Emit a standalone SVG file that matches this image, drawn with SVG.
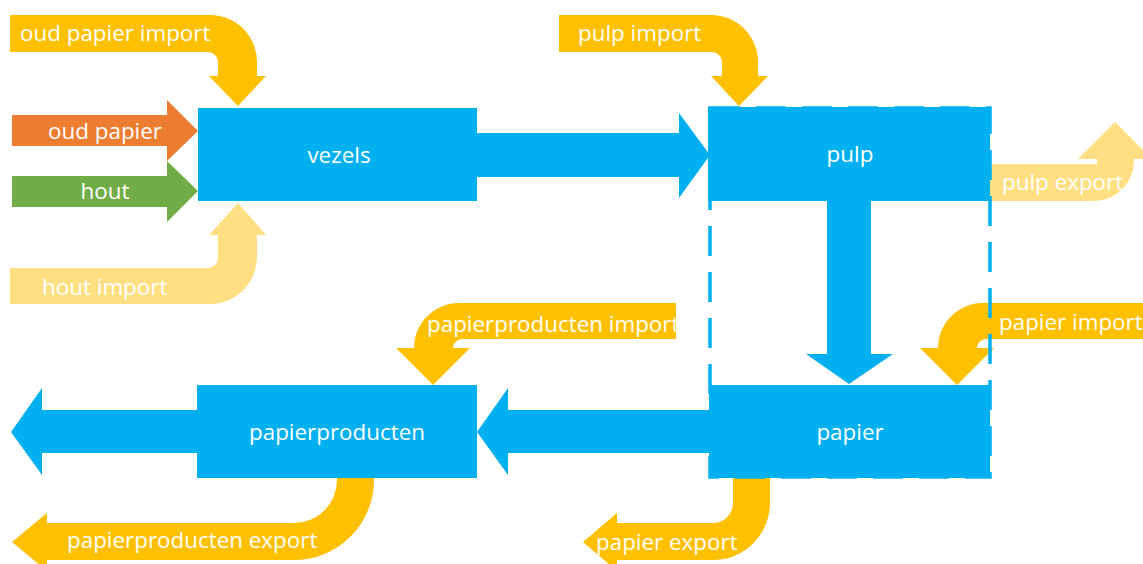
<svg xmlns="http://www.w3.org/2000/svg" width="1143" height="564" viewBox="0 0 1143 564">
  <style>
    .lbl { font-family: "Open Sans", "Noto Sans", sans-serif; font-size: 22.4px; fill: #ffffff; }
    .mid { text-anchor: middle; }
    .box { fill: #00B0F0; }
    .flow { fill: #00B0F0; }
    .imp { fill: #FFC000; }
    .light { fill: #FFDF82; }
    .frame { fill: none; stroke: #00B0F0; stroke-width: 3.5; stroke-dasharray: 30 16; }
  </style>
  <rect width="1143" height="564" fill="#ffffff"/>

  <!-- connectors: main flows and trade arrows -->
  <g id="connectors">
    <!-- inputs into vezels -->
    <path id="in-oud-papier" d="M12,115 H167 V100 L198,131 L167,161 V146 H12 Z" fill="#ED7D31"/>
    <path id="in-hout" d="M12,176 H167 V161 L198,191 L167,222 V207 H12 Z" fill="#70AD47"/>
    <path id="oud-papier-import" class="imp" d="M10,15 H210 A47,47 0 0 1 257,62 V76 H266 L238,106 L209,76 H218 V62 A10,10 0 0 0 208,52 H10 Z"/>
    <path id="hout-import" class="light" d="M10,304 H210 A47,47 0 0 0 257,257 V235 H266 L238,203 L209,235 H218 V258 A10,10 0 0 1 208,268 H10 Z"/>

    <!-- vezels to pulp -->
    <path id="vezels-pulp" class="flow" d="M477,133 H679 V113 L710,155 L679,198 V177 H477 Z"/>
    <path id="pulp-import" class="imp" d="M559,15 H711 A47,47 0 0 1 758,62 V76 H768 L739,106 L711,76 H722 V62 A10,10 0 0 0 712,52 H559 Z"/>
    <path id="pulp-export" class="light" d="M990,164 H1097 V159 H1078 L1115,122 L1152,159 H1134 V161 A40,40 0 0 1 1094,201 H990 Z"/>

    <!-- pulp to papier -->
    <path id="pulp-papier" class="flow" d="M827,201 V354 H806 L849,384 L893,354 H871 V201 Z"/>
    <path id="papier-import" class="imp" d="M1150,303 H983 A45,45 0 0 0 938,348 H920 L957,385 L994,348 H977 A9,9 0 0 1 986,339 H1150 Z"/>
    <path id="papier-export" class="imp" d="M733,478 H770 V503 A57,57 0 0 1 713,560 H617 V571 L583,542 L617,513 V523 H713 A20,20 0 0 0 733,503 Z"/>

    <!-- papier to papierproducten -->
    <path id="papier-papierproducten" class="flow" d="M709,410 H508 V388 L477,432 L508,475 V453 H709 Z"/>
    <path id="papierproducten-import" class="imp" d="M676,303 H459 A45,45 0 0 0 414,348 H396 L433,385 L470,348 H453 A9,9 0 0 1 462,339 H676 Z"/>
    <path id="papierproducten-out" class="flow" d="M197,410 H42 V388 L11,432 L42,475 V453 H197 Z"/>
    <path id="papierproducten-export" class="imp" d="M337,478 H374 V480 A80,80 0 0 1 294,560 H47 V571 L12,542 L47,513 V523 H294 A43,43 0 0 0 337,480 Z"/>
  </g>

  <!-- dashed boundary around pulp and papier -->
  <rect id="mill-frame" class="frame" x="710" y="108" width="280" height="369"/>

  <g id="node-vezels">
    <rect class="box" x="198" y="108" width="279" height="93"/>
    <text class="lbl mid" x="339" y="163">vezels</text>
  </g>
  <g id="node-pulp">
    <rect class="box" x="708" y="107" width="282" height="94"/>
    <text class="lbl mid" x="850" y="162">pulp</text>
  </g>
  <g id="node-papier">
    <rect class="box" x="709" y="385" width="281" height="93"/>
    <text class="lbl mid" x="850" y="440">papier</text>
  </g>
  <g id="node-papierproducten">
    <rect class="box" x="197" y="385" width="280" height="93"/>
    <text class="lbl mid" x="337" y="440">papierproducten</text>
  </g>

  <!-- arrow labels -->
  <g id="labels">
    <text class="lbl" x="20" y="41">oud papier import</text>
    <text class="lbl mid" x="105" y="139">oud papier</text>
    <text class="lbl mid" x="105" y="199">hout</text>
    <text class="lbl" x="42" y="295">hout import</text>
    <text class="lbl" x="578" y="41">pulp import</text>
    <text class="lbl" x="1002" y="190">pulp export</text>
    <text class="lbl" x="427" y="332">papierproducten import</text>
    <text class="lbl" x="999" y="330">papier import</text>
    <text class="lbl" x="67" y="548">papierproducten export</text>
    <text class="lbl" x="596" y="550">papier export</text>
  </g>
</svg>
